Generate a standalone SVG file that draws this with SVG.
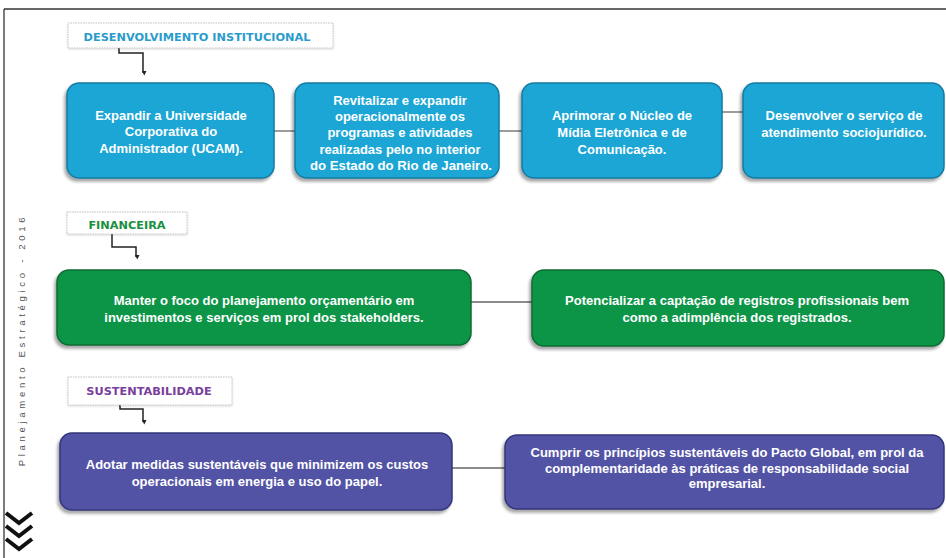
<svg xmlns="http://www.w3.org/2000/svg" width="946" height="558" viewBox="0 0 946 558">
<style>
.lbl{fill:#fff;stroke:#c4c4c4;stroke-width:1;stroke-dasharray:1.5 1}
.ht{font-family:"DejaVu Sans",Verdana,sans-serif;font-weight:bold;font-size:11.3px;text-anchor:middle}
.bt{font-family:"Liberation Sans",Arial,sans-serif;font-weight:bold;font-size:13px;fill:#fff;text-anchor:middle}
.blue{fill:#1ba6d6;stroke:#137aa0;stroke-width:1.5}
.green{fill:#119547;stroke:#0b6a31;stroke-width:1.5}
.purple{fill:#5253a6;stroke:#33347c;stroke-width:1.5}
.con{stroke:#666;stroke-width:1.3;fill:none}
.arr{stroke:#222;stroke-width:1.5;fill:none;marker-end:url(#ah)}
</style>
<defs>
<marker id="ah" viewBox="0 0 8 8" refX="4" refY="6" markerWidth="5" markerHeight="5" orient="auto-start-reverse" markerUnits="userSpaceOnUse">
<path d="M0,0 L8,0 L4,8 Z" fill="#222" transform="rotate(-90 4 4)"/>
</marker>
<filter id="sh" x="-10%" y="-10%" width="120%" height="130%">
<feDropShadow dx="-2" dy="3" stdDeviation="1.5" flood-color="#000" flood-opacity="0.35"/>
</filter>
<filter id="sl" x="-10%" y="-20%" width="120%" height="150%">
<feDropShadow dx="0" dy="1" stdDeviation="1" flood-color="#000" flood-opacity="0.15"/>
</filter>
</defs>
<rect width="946" height="558" fill="#fff"/>
<g id="frame">
<line x1="4" y1="9" x2="946" y2="9" stroke="#333" stroke-width="1.3"/>
<line x1="4" y1="9" x2="4" y2="558" stroke="#333" stroke-width="1.3"/>
<text transform="translate(25 340) rotate(-90)" font-family="'Liberation Sans',Arial,sans-serif" font-size="9.5" fill="#555" letter-spacing="3.7" text-anchor="middle">Planejamento Estratégico - 2016</text>
<g stroke="#111" stroke-width="4" fill="none" stroke-linejoin="miter">
<polyline points="6,513 19,523 32,513"/>
<polyline points="6,526 19,536 32,526"/>
<polyline points="6,539 19,549 32,539"/>
</g>
</g>
<g id="connectors">
<path class="arr" d="M119,48 V53 H143 V73"/>
<path class="arr" d="M112,234 V247 H136 V257"/>
<path class="arr" d="M120,405 V409 H143 V422"/>
<line class="con" x1="274" y1="131" x2="295" y2="131"/>
<line class="con" x1="499" y1="131" x2="522" y2="131"/>
<line class="con" x1="722" y1="112" x2="743" y2="112"/>
<line class="con" x1="471" y1="302" x2="532" y2="302"/>
<line class="con" x1="452" y1="468" x2="505" y2="468"/>
</g>
<g id="h-desenvolvimento">
<rect class="lbl" x="68" y="23" width="265" height="25" filter="url(#sl)"/>
<text class="ht" x="197" y="41" fill="#2a9ccc">DESENVOLVIMENTO INSTITUCIONAL</text>
</g>
<g id="h-financeira">
<rect class="lbl" x="67" y="212" width="120" height="22" filter="url(#sl)"/>
<text class="ht" x="127" y="229" fill="#1b8f41">FINANCEIRA</text>
</g>
<g id="h-sustentabilidade">
<rect class="lbl" x="68" y="377" width="164" height="28" filter="url(#sl)"/>
<text class="ht" x="149" y="395" fill="#7a3e9c">SUSTENTABILIDADE</text>
</g>
<g id="b1">
<rect class="blue" x="67" y="83" width="207" height="95" rx="12" filter="url(#sh)"/>
<text class="bt" x="171" y="119.5">Expandir a Universidade</text>
<text class="bt" x="171" y="136">Corporativa do</text>
<text class="bt" x="171" y="153">Administrador (UCAM).</text>
</g>
<g id="b2">
<rect class="blue" x="295" y="83" width="204" height="95" rx="12" filter="url(#sh)"/>
<text class="bt" x="400" y="104.5">Revitalizar e expandir</text>
<text class="bt" x="400" y="121">operacionalmente os</text>
<text class="bt" x="400" y="137">programas e atividades</text>
<text class="bt" x="400" y="153.5">realizadas pelo no interior</text>
<text class="bt" x="401" y="170" textLength="182" lengthAdjust="spacingAndGlyphs">do Estado do Rio de Janeiro.</text>
</g>
<g id="b3">
<rect class="blue" x="522" y="83" width="200" height="95" rx="12" filter="url(#sh)"/>
<text class="bt" x="622" y="119.5">Aprimorar o Núcleo de</text>
<text class="bt" x="622" y="137">Mídia Eletrônica e de</text>
<text class="bt" x="622" y="154">Comunicação.</text>
</g>
<g id="b4">
<rect class="blue" x="743" y="83" width="201" height="95" rx="12" filter="url(#sh)"/>
<text class="bt" x="844" y="119.5">Desenvolver o serviço de</text>
<text class="bt" x="844" y="137">atendimento sociojurídico.</text>
</g>
<g id="g1">
<rect class="green" x="57" y="270" width="414" height="75" rx="12" filter="url(#sh)"/>
<text class="bt" x="264" y="304.5">Manter o foco do planejamento orçamentário em</text>
<text class="bt" x="264" y="322">investimentos e serviços em prol dos stakeholders.</text>
</g>
<g id="g2">
<rect class="green" x="532" y="270" width="412" height="76" rx="12" filter="url(#sh)"/>
<text class="bt" x="737" y="305">Potencializar a captação de registros profissionais bem</text>
<text class="bt" x="737" y="322">como a adimplência dos registrados.</text>
</g>
<g id="p1">
<rect class="purple" x="60" y="433" width="392" height="77" rx="12" filter="url(#sh)"/>
<text class="bt" x="257" y="469">Adotar medidas sustentáveis que minimizem os custos</text>
<text class="bt" x="257" y="486">operacionais em energia e uso do papel.</text>
</g>
<g id="p2">
<rect class="purple" x="505" y="435" width="439" height="74" rx="12" filter="url(#sh)"/>
<text class="bt" x="727" y="456.5">Cumprir os princípios sustentáveis do Pacto Global, em prol da</text>
<text class="bt" x="727" y="472.5">complementaridade às práticas de responsabilidade social</text>
<text class="bt" x="727" y="488">empresarial.</text>
</g>
</svg>
